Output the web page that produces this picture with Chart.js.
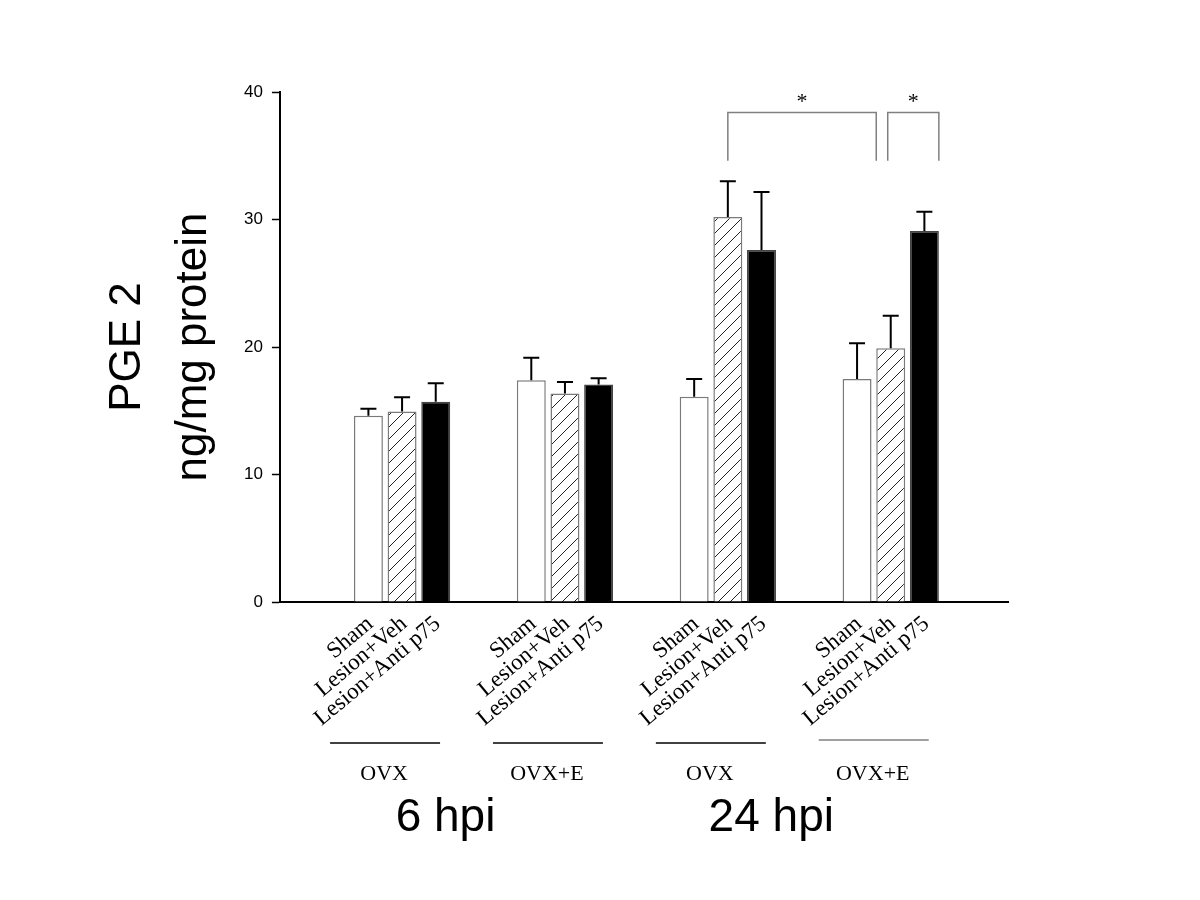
<!DOCTYPE html>
<html>
<head>
<meta charset="utf-8">
<script src="https://cdn.jsdelivr.net/npm/chart.js@4"></script>
<style>
  html, body { margin: 0; padding: 0; background: #fff; }
</style>
</head>
<body>
<canvas id="pgeChart" width="1200" height="900"></canvas>
<script>
// valores (média e erro padrão, só para cima)
const groupLabels = ["OVX", "OVX+E", "OVX", "OVX+E"];
const timeLabels = ["6 hpi", "24 hpi"];
const treatments = ["Sham", "Lesion+Veh", "Lesion+Anti p75"];
const shamMean = [14.6, 17.4, 16.1, 17.5];
const shamSem = [0.55, 1.75, 1.4, 2.8];
const vehMean = [14.95, 16.35, 30.2, 19.9];
const vehSem = [1.1, 0.9, 2.8, 2.55];
const antiMean = [15.7, 17.05, 27.6, 29.1];
const antiSem = [1.45, 0.5, 4.55, 1.5];
const yTicks = [0, 10, 20, 30, 40];
// colchetes de significância: [dataset, grupo] de cada ponta
const brackets = [
  { from: [1, 2], to: [1, 3], top: 38.4, bottom: 34.6 },
  { from: [1, 3], to: [2, 3], top: 38.4, bottom: 34.6 },
];

const sems = [shamSem, vehSem, antiSem];

// padrão hachurado "/"
function hatch() {
  const c = document.createElement("canvas");
  c.width = 12;
  c.height = 12;
  const g = c.getContext("2d");
  g.fillStyle = "#fff";
  g.fillRect(0, 0, 12, 12);
  g.strokeStyle = "#222";
  g.lineWidth = 1;
  g.beginPath();
  g.moveTo(0, 12); g.lineTo(12, 0);
  g.moveTo(-3, 3); g.lineTo(3, -3);
  g.moveTo(9, 15); g.lineTo(15, 9);
  g.stroke();
  return g.createPattern(c, "repeat");
}

const toPoints = (arr) => arr.map((v, i) => ({ x: i, y: v }));

const extras = {
  id: "extras",
  afterDatasetsDraw(chart) {
    const ctx = chart.ctx;
    const y = chart.scales.y;
    const area = chart.chartArea;
    const barAt = (d, i) => chart.getDatasetMeta(d).data[i];
    ctx.save();

    // barras de erro
    ctx.strokeStyle = "#000";
    ctx.lineWidth = 2;
    chart.data.datasets.forEach((ds, d) => {
      chart.getDatasetMeta(d).data.forEach((bar, i) => {
        const top = y.getPixelForValue(ds.data[i].y + sems[d][i]);
        ctx.beginPath();
        ctx.moveTo(bar.x, bar.y);
        ctx.lineTo(bar.x, top);
        ctx.moveTo(bar.x - 8, top);
        ctx.lineTo(bar.x + 8, top);
        ctx.stroke();
      });
    });

    // colchetes + asteriscos
    ctx.strokeStyle = "#808080";
    ctx.lineWidth = 1.5;
    ctx.fillStyle = "#000";
    ctx.font = "22px 'Liberation Serif', 'Times New Roman', serif";
    ctx.textAlign = "center";
    ctx.textBaseline = "middle";
    brackets.forEach((b, k) => {
      const a = barAt(b.from[0], b.from[1]);
      const e = barAt(b.to[0], b.to[1]);
      const x1 = k === 0 ? a.x : a.x - 3;
      const x2 = k === 0 ? e.x - e.width / 2 : e.x + e.width / 2;
      const yt = y.getPixelForValue(b.top);
      const yb = y.getPixelForValue(b.bottom);
      ctx.beginPath();
      ctx.moveTo(x1, yb);
      ctx.lineTo(x1, yt);
      ctx.lineTo(x2, yt);
      ctx.lineTo(x2, yb);
      ctx.stroke();
      ctx.fillText("*", (x1 + x2) / 2, yt - 10);
    });

    // rótulos inclinados de cada barra
    ctx.font = "23px 'Liberation Serif', 'Times New Roman', serif";
    ctx.textAlign = "right";
    ctx.textBaseline = "middle";
    treatments.forEach((name, d) => {
      chart.getDatasetMeta(d).data.forEach((bar) => {
        ctx.save();
        ctx.translate(bar.x + 2, area.bottom + 19);
        ctx.rotate(-40 * Math.PI / 180);
        ctx.fillText(name, 0, 0);
        ctx.restore();
      });
    });

    // linha + nome de cada grupo
    const centers = groupLabels.map((_, i) => barAt(1, i).x);
    ctx.textAlign = "center";
    ctx.font = "22px 'Liberation Serif', 'Times New Roman', serif";
    centers.forEach((cx, i) => {
      ctx.strokeStyle = i === 3 ? "#808080" : "#000";
      ctx.lineWidth = 1.5;
      const ly = area.bottom + (i === 3 ? 138 : 141);
      ctx.beginPath();
      ctx.moveTo(cx - 72, ly);
      ctx.lineTo(cx + 38, ly);
      ctx.stroke();
      ctx.fillText(groupLabels[i], cx - 18, area.bottom + 172);
    });

    // tempos
    ctx.font = "46px 'Liberation Sans', Arial, sans-serif";
    timeLabels.forEach((t, k) => {
      const mid = (centers[2 * k] + centers[2 * k + 1]) / 2;
      ctx.fillText(t, mid - 38, area.bottom + 216);
    });
    ctx.restore();
  },
};

const ctx = document.getElementById("pgeChart").getContext("2d");
const hatched = hatch();

new Chart(ctx, {
  type: "bar",
  data: {
    datasets: [
      {
        label: treatments[0],
        data: toPoints(shamMean),
        backgroundColor: "#fff",
        borderColor: "#7a7a7a",
        borderWidth: 1.5,
      },
      {
        label: treatments[1],
        data: toPoints(vehMean),
        backgroundColor: hatched,
        borderColor: "#7a7a7a",
        borderWidth: 1.5,
      },
      {
        label: treatments[2],
        data: toPoints(antiMean),
        backgroundColor: "#000",
        borderColor: "#444",
        borderWidth: 1.5,
      },
    ],
  },
  options: {
    responsive: false,
    animation: false,
    categoryPercentage: 0.62,
    barPercentage: 0.86,
    layout: { padding: { left: 95, top: 92, right: 192, bottom: 290 } },
    plugins: { legend: { display: false }, tooltip: { enabled: false } },
    scales: {
      x: {
        type: "linear",
        min: -0.75,
        max: 3.72,
        offset: false,
        // um tick por grupo, assim a largura das barras usa o espaço entre grupos
        afterBuildTicks: (s) => { s.ticks = groupLabels.map((_, i) => ({ value: i })); },
        ticks: { display: false },
        grid: { display: false },
        border: { display: true, color: "#000", width: 2 },
      },
      y: {
        min: 0,
        max: 40,
        afterBuildTicks: (s) => { s.ticks = yTicks.map((v) => ({ value: v })); },
        ticks: {
          color: "#000",
          padding: 9,
          font: { family: "'Liberation Sans', Arial, sans-serif", size: 17 },
        },
        grid: {
          drawOnChartArea: false,
          drawTicks: true,
          tickLength: 8,
          tickColor: "#000",
          tickWidth: 1.5,
        },
        border: { display: true, color: "#000", width: 2 },
        title: {
          display: true,
          text: ["PGE 2", "ng/mg protein"],
          color: "#000",
          font: { family: "'Liberation Sans', Arial, sans-serif", size: 44, lineHeight: 1.5 },
          padding: { top: 0, bottom: 8 },
        },
      },
    },
  },
  plugins: [extras],
});
</script>
</body>
</html>
